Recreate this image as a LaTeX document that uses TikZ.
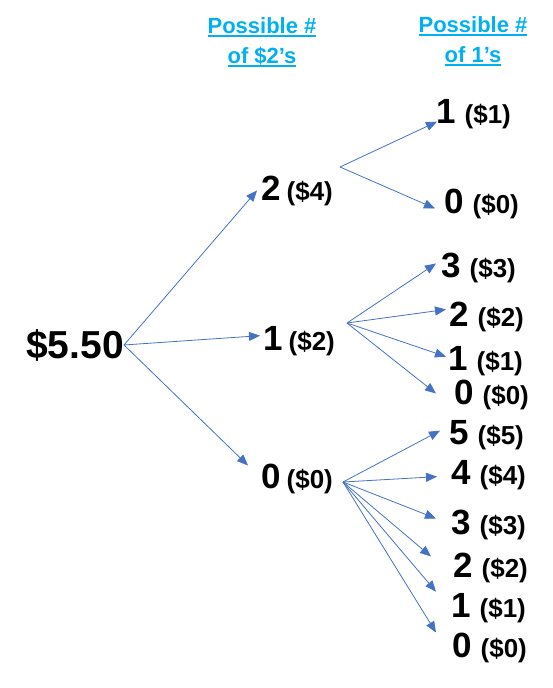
\documentclass[tikz,border=0pt]{standalone}
\usepackage{fontspec}
\setmainfont{Liberation Sans}
\usetikzlibrary{arrows.meta}

\definecolor{arrowblue}{HTML}{4472C4}
\definecolor{headcyan}{HTML}{00B0F0}

\newcommand\coinlbl[3][9pt]{%
  {\fontsize{35}{35}\selectfont #2}\hspace{#1}{\fontsize{26}{26}\selectfont (\$#3)}}
\newcommand\hdrline[1]{\setbox0\hbox{#1}\rlap{\rule[-4pt]{\wd0}{1.8pt}}\box0}

\tikzset{
  choice/.style = {anchor = base west, inner sep = 0, font = \bfseries},
  branch/.style = {-{Triangle[length = 11pt, width = 9pt]}, draw = arrowblue,
    line width = 0.8pt},
  heading/.style = {anchor = north, align = center, inner sep = 0, text = headcyan,
    font = \fontsize{22}{30}\selectfont\bfseries}
}

\begin{document}
\begin{tikzpicture}[x = 1pt, y = -1pt]
  \useasboundingbox (0, 0) rectangle (553, 688);

  \node[heading] (headtwos) at (262, 17) {\hdrline{Possible \#}\\ \hdrline{of \$2’s}};
  \node[heading] (headones) at (473, 16) {\hdrline{Possible \#}\\ \hdrline{of 1’s}};

  \node[choice, font = \fontsize{39}{39}\selectfont\bfseries] (start) at (26, 358) {\$5.50};

  \foreach \n/\x/\y/\d/\c in {n2/261/200/2/4, n1/263/350/1/2, n0/261/488/0/0} {
    \node[choice] (\n) at (\x, \y) {\coinlbl[6pt]{\d}{\c}};
  }

  \foreach \n/\x/\y/\d in {n2o1/436/123/1, n2o0/444/213/0,
      n1o3/441/277/3, n1o2/449/326/2, n1o1/448/370/1, n1o0/454/404/0,
      n0o5/449/444/5, n0o4/451/484/4, n0o3/451/534/3, n0o2/453/577/2,
      n0o1/451/617/1, n0o0/452/657/0} {
    \node[choice] (\n) at (\x, \y) {\coinlbl{\d}{\d}};
  }

  \coordinate (s2) at (340, 167);
  \coordinate (s1) at (347, 323);
  \coordinate (s0) at (343, 482);

  \foreach \n/\dx/\dy in {n2/-4/0, n1/-3/-5, n0/-13/-13} {
    \draw[branch] (start.east) -- ([shift = {(\dx, \dy)}]\n.west);
  }

  \foreach \s/\n/\dx/\dy in {s2/n2o1/1/8, s2/n2o0/-9/5,
      s1/n1o3/-5/-4, s1/n1o2/-3/-7, s1/n1o1/-2/-4, s1/n1o0/-18/-1,
      s0/n0o5/-9/-4, s0/n0o4/-14/2, s0/n0o3/-15/-6, s0/n0o2/-22/-11,
      s0/n0o1/-15/-16, s0/n0o0/-16/-15} {
    \draw[branch] (\s) -- ([shift = {(\dx, \dy)}]\n.west);
  }

\end{tikzpicture}
\end{document}
